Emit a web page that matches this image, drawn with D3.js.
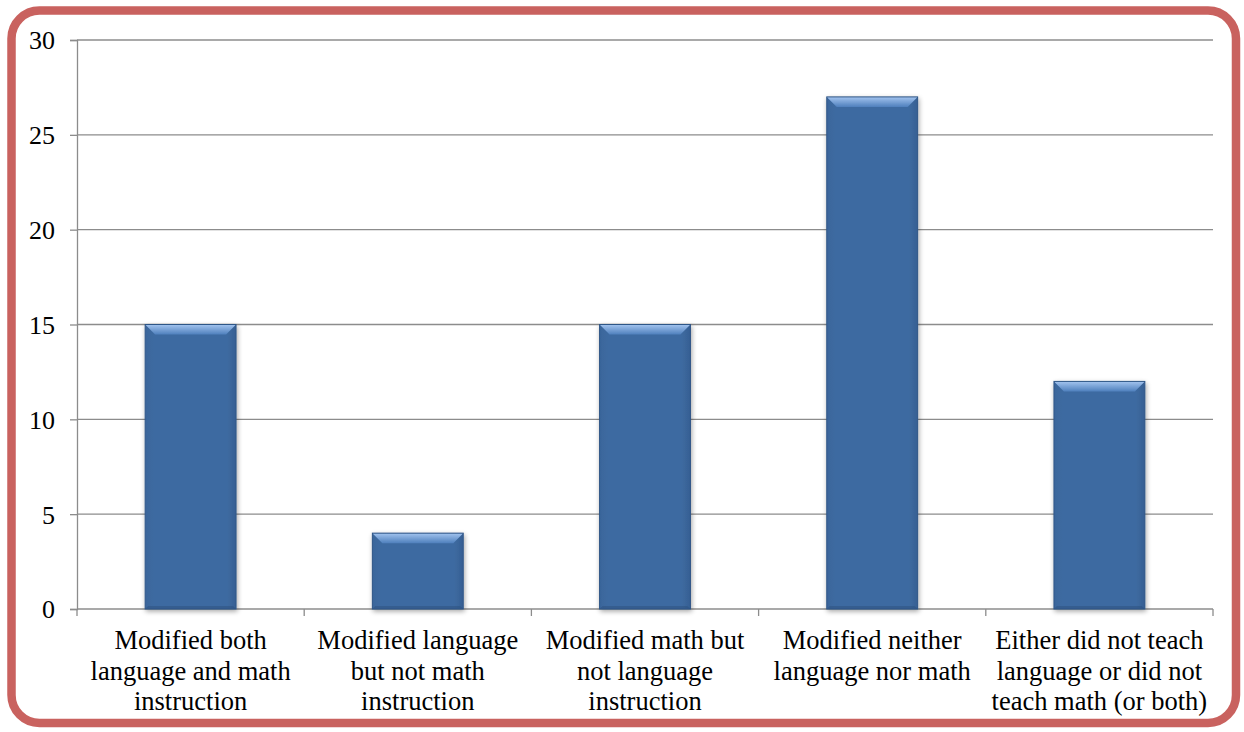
<!DOCTYPE html>
<html>
<head>
<meta charset="utf-8">
<script src="https://cdn.jsdelivr.net/npm/d3@7"></script>
<style>
  html, body { margin: 0; padding: 0; background: #ffffff; }
  svg { display: block; }
</style>
</head>
<body>
<svg id="chart" width="1244" height="732"></svg>
<script>
// Survey responses: how instruction was modified
const categories = [
  ["Modified both", "language and math", "instruction"],
  ["Modified language", "but not math", "instruction"],
  ["Modified math but", "not language", "instruction"],
  ["Modified neither", "language nor math"],
  ["Either did not teach", "language or did not", "teach math (or both)"]
];
const values = [15, 4, 15, 27, 12];
const yTicks = [0, 5, 10, 15, 20, 25, 30];

const FONT = "Liberation Serif";

const svg = d3.select("#chart");
const W = 1244, H = 732;
const margin = { left: 77, right: 31, top: 40, bottom: 123 };
const plotW = W - margin.left - margin.right;
const plotH = H - margin.top - margin.bottom;

// Outer rounded frame
svg.append("rect")
  .attr("x", 11.5).attr("y", 10.5)
  .attr("width", 1224.5).attr("height", 712.5)
  .attr("rx", 28).attr("ry", 28)
  .attr("fill", "#fff")
  .attr("stroke", "#c9625f")
  .attr("stroke-width", 8.5);

const defs = svg.append("defs");
const shadow = defs.append("filter").attr("id", "shadow")
  .attr("x", "-20%").attr("y", "-20%").attr("width", "140%").attr("height", "140%");
shadow.append("feGaussianBlur").attr("in", "SourceAlpha").attr("stdDeviation", 2.5);
shadow.append("feOffset").attr("dx", 1).attr("dy", 2).attr("result", "ob");
shadow.append("feComponentTransfer").append("feFuncA").attr("type", "linear").attr("slope", 0.35);
const merge = shadow.append("feMerge");
merge.append("feMergeNode");
merge.append("feMergeNode").attr("in", "SourceGraphic");

const topGrad = defs.append("linearGradient").attr("id", "bevelTop")
  .attr("x1", 0).attr("y1", 0).attr("x2", 0).attr("y2", 1);
topGrad.append("stop").attr("offset", 0).attr("stop-color", "#a3c4ef");
topGrad.append("stop").attr("offset", 1).attr("stop-color", "#4f80bd");

const bodyGrad = defs.append("linearGradient").attr("id", "bodyFill")
  .attr("x1", 0).attr("y1", 0).attr("x2", 1).attr("y2", 0);
bodyGrad.append("stop").attr("offset", 0).attr("stop-color", "#3a659b");
bodyGrad.append("stop").attr("offset", 0.1).attr("stop-color", "#3e6ba1");
bodyGrad.append("stop").attr("offset", 0.9).attr("stop-color", "#3e6ba1");
bodyGrad.append("stop").attr("offset", 1).attr("stop-color", "#365f93");

const g = svg.append("g").attr("transform", `translate(${margin.left},${margin.top})`);

const x = d3.scaleBand().domain(d3.range(categories.length)).range([0, plotW]).paddingInner(0).paddingOuter(0);
const y = d3.scaleLinear().domain([0, 30]).range([plotH, 0]);

// Horizontal gridlines
g.append("g").selectAll("line").data(yTicks.filter(d => d > 0)).join("line")
  .attr("x1", 0).attr("x2", plotW)
  .attr("y1", d => y(d)).attr("y2", d => y(d))
  .attr("stroke", "#8c8c8c").attr("stroke-width", 1.3);

// Y axis
const yAxis = g.append("g").call(d3.axisLeft(y).tickValues(yTicks).tickSize(7).tickPadding(15))
  .attr("font-family", FONT).attr("font-size", 26);
yAxis.select(".domain").attr("stroke", "#8c8c8c").attr("stroke-width", 1.3);
yAxis.selectAll(".tick line").attr("stroke", "#8c8c8c").attr("stroke-width", 1.3);
yAxis.selectAll(".tick text").attr("fill", "#000").attr("dy", "0.34em");

// X axis baseline and boundary ticks
const xAxis = g.append("g").attr("transform", `translate(0,${plotH})`)
  .attr("font-family", FONT).attr("font-size", 26.5);
xAxis.append("line").attr("x1", 0).attr("x2", plotW).attr("stroke", "#8c8c8c").attr("stroke-width", 1.3);
xAxis.selectAll("line.tk").data(d3.range(categories.length + 1)).join("line")
  .attr("class", "tk")
  .attr("x1", i => i * x.bandwidth()).attr("x2", i => i * x.bandwidth())
  .attr("y1", 0).attr("y2", 7)
  .attr("stroke", "#8c8c8c").attr("stroke-width", 1.3);

// Category labels
xAxis.selectAll("text.cat").data(categories).join("text")
  .attr("class", "cat")
  .attr("text-anchor", "middle")
  .attr("fill", "#000")
  .attr("x", (d, i) => x(i) + x.bandwidth() / 2)
  .attr("y", 40)
  .each(function(lines) {
    const t = d3.select(this);
    t.selectAll("tspan").data(lines).join("tspan")
      .attr("x", t.attr("x"))
      .attr("dy", (d, j) => j === 0 ? 0 : 30.5)
      .text(d => d);
  });

// Bevelled bars
const barW = x.bandwidth() * 0.4;
const bev = 10;
const bars = g.append("g").selectAll("g.bar").data(values).join("g")
  .attr("class", "bar")
  .attr("filter", "url(#shadow)");

bars.each(function(v, i) {
  const b = d3.select(this);
  const x0 = x(i) + (x.bandwidth() - barW) / 2;
  const x1 = x0 + barW;
  const y0 = y(v), y1 = y(0);
  b.append("rect").attr("x", x0).attr("y", y0).attr("width", barW).attr("height", y1 - y0)
    .attr("fill", "url(#bodyFill)");
  // top bevel
  b.append("path")
    .attr("d", `M${x0},${y0}L${x1},${y0}L${x1 - bev},${y0 + bev}L${x0 + bev},${y0 + bev}Z`)
    .attr("fill", "url(#bevelTop)");
  // bottom edge shading
  b.append("path")
    .attr("d", `M${x0},${y1}L${x1},${y1}L${x1 - 3},${y1 - 3}L${x0 + 3},${y1 - 3}Z`)
    .attr("fill", "#2c4f7e").attr("opacity", 0.5);
  // outline
  b.append("rect").attr("x", x0).attr("y", y0).attr("width", barW).attr("height", y1 - y0)
    .attr("fill", "none").attr("stroke", "#2f5687").attr("stroke-width", 1);
});
</script>
</body>
</html>
